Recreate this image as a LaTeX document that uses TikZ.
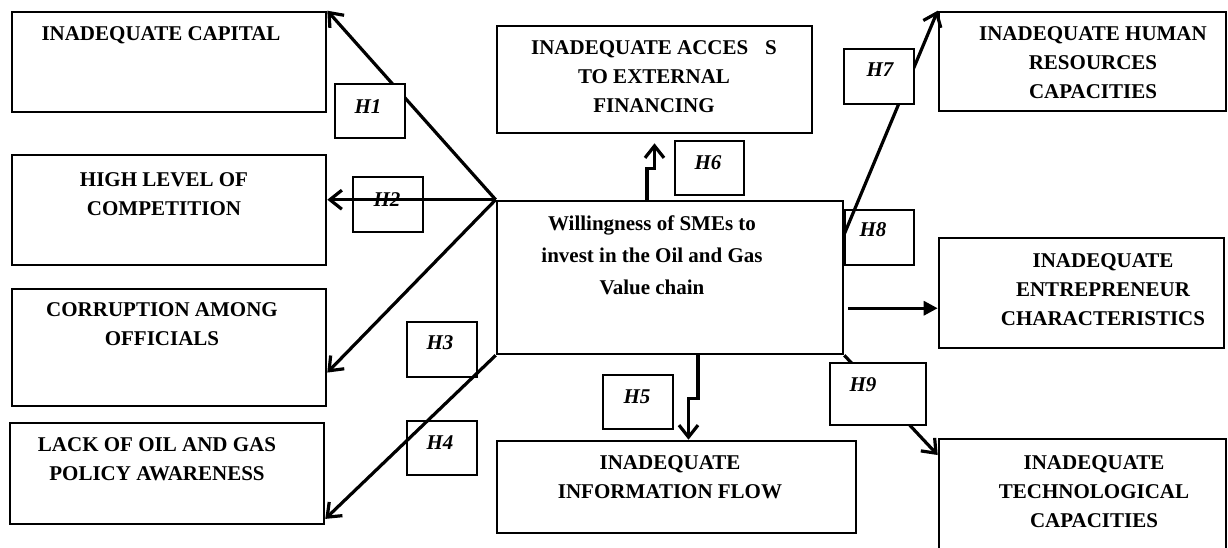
\documentclass[tikz,border=0pt]{standalone}
\usepackage{fontspec}
\setmainfont{Liberation Serif}
\usetikzlibrary{arrows.meta}
\begin{document}
\begin{tikzpicture}[x=0.5pt,y=-0.5pt,line join=miter,>={Straight Barb[length=6pt,width=9.5pt]}]
	\tikzset{
		box/.style={draw,line width=1.3pt,inner sep=0pt},
		lbl/.style={anchor=north,inner sep=0pt,align=center,font=\bfseries\fontsize{10.5}{14.5}\selectfont},
		hyp/.style={draw,line width=1pt,inner sep=0pt},
		hlbl/.style={inner sep=0pt,font=\bfseries\itshape\fontsize{10.5}{12}\selectfont},
		link/.style={->,line width=1.6pt}
	}
	\useasboundingbox (0,0) rectangle (1228,547);
	\clip (0,0) rectangle (1228,547);
	\foreach \n/\xa/\ya/\xb/\yb/\tx/\ty/\txt in {
		cap/12/12/326/112/161/26/{INADEQUATE CAPITAL},
		comp/12/155/326/265/164/172/{HIGH LEVEL OF\\COMPETITION},
		corr/12/289/326/406/162/302/{CORRUPTION AMONG\\OFFICIALS},
		lack/10/423/324/524/157/437/{LACK OF OIL AND GAS\\POLICY AWARENESS},
		acc/497/26/812/133/654/40/{INADEQUATE ACCES\hspace{0.8em}S\\TO EXTERNAL\\FINANCING},
		info/497/441/856/533/670/455/{INADEQUATE\\INFORMATION FLOW},
		hr/939/12/1226/111/1093/26/{INADEQUATE HUMAN\\RESOURCES\\CAPACITIES},
		ent/939/238/1224/348/1103/253/{INADEQUATE\\ENTREPRENEUR\\CHARACTERISTICS},
		tech/939/439/1226/600/1094/455/{INADEQUATE\\TECHNOLOGICAL\\CAPACITIES}}{
		\node[box,minimum width={(\xb-\xa)*0.5pt},minimum height={(\yb-\ya)*0.5pt}] (\n) at ({(\xa+\xb)/2},{(\ya+\yb)/2}) {};
		\node[lbl] (\n-t) at (\tx,\ty) {\txt};
	}
	\node[box,minimum width=173pt,minimum height=76.5pt] (smes) at (670,277.5) {};
	\node[lbl,font=\bfseries\fontsize{10.5}{16}\selectfont] (smes-t) at (652,215) {Willingness of SMEs to\\invest in the Oil and Gas\\Value chain};
	\draw[link] (smes.north west) -- (cap.north east);
	\draw[link] (smes.north west) -- (comp.east |- smes.north west);
	\draw[link] (smes.north west) -- (corr.-9);
	\draw[link] (smes.south west) -- (lack.-16);
	\draw[link] ([xshift=-11.5pt]smes.north) -- ++(0,-31) -| ([yshift=-4.5pt]acc.south);
	\draw[link] ([xshift=14pt]smes.south) -- ++(0,43) -| ([xshift=6pt]info.north);
	\draw[link] (smes.14) -- (hr.north west);
	\draw[link,-{Triangle[length=7pt,width=7pt]},shorten <=2pt] (smes.-10) -- (smes.-10 -| ent.west);
	\draw[link] (smes.south east) -- (tech.156);
	\foreach \n/\xa/\ya/\xb/\yb/\tx/\ty/\f in {
		1/335/84/405/138/368/107/white, 2/353/177/423/232/387/200/none,
		3/407/322/477/377/440/343/none, 4/407/421/477/475/440/443/none,
		5/603/375/673/429/637/397/white, 6/675/141/744/195/708/163/white,
		7/844/49/914/104/880/70/white, 8/845/210/914/265/873/230/none,
		9/830/363/926/425/863/385/white}{
		\node[hyp,fill=\f,minimum width={(\xb-\xa)*0.5pt},minimum height={(\yb-\ya)*0.5pt}] (h\n) at ({(\xa+\xb)/2},{(\ya+\yb)/2}) {};
		\node[hlbl] (h\n-t) at (\tx,\ty) {H\n};
	}
\end{tikzpicture}
\end{document}
